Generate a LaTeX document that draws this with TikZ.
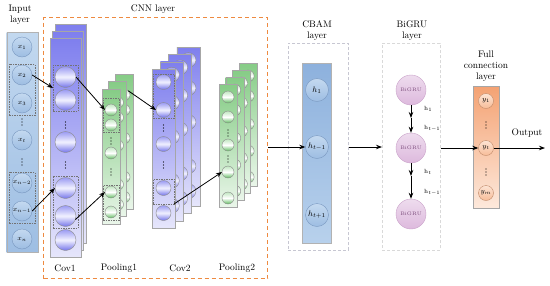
\documentclass[tikz,border=0pt]{standalone}
\usepackage{fontspec}
\usetikzlibrary{arrows.meta}
\definecolor{cova}{HTML}{7F7FEE}
\definecolor{covb}{HTML}{E6E6FB}
\definecolor{poola}{HTML}{86CC86}
\definecolor{poolb}{HTML}{EAF6EA}
\definecolor{cnnor}{HTML}{EE8A40}
\definecolor{cbt}{HTML}{9A9AF2}
\definecolor{cbm}{HTML}{F2F2FF}
\definecolor{cbb}{HTML}{7474EA}
\definecolor{pbt}{HTML}{BFE6BF}
\definecolor{pbb}{HTML}{5DBA5D}
\definecolor{inct}{HTML}{C2D8EF}
\definecolor{incb}{HTML}{9EBEE3}
\definecolor{inbt}{HTML}{C4D9F0}
\definecolor{inbb}{HTML}{9DBDE2}
\definecolor{inbd}{HTML}{7A98C0}
\definecolor{cbct}{HTML}{8DB1DD}
\definecolor{cbcb}{HTML}{B8D1EC}
\definecolor{fct}{HTML}{F4A273}
\definecolor{fcb}{HTML}{FDE9DC}
\definecolor{fbt}{HTML}{FDE4D4}
\definecolor{fbb}{HTML}{F7BC98}
\definecolor{fbd}{HTML}{C08A6A}
\definecolor{bgt}{HTML}{EEDCEE}
\definecolor{bgb}{HTML}{DDB9DD}
\definecolor{bgd}{HTML}{C9A2C9}
\definecolor{bgtx}{HTML}{7A4A7A}
\newcommand\vdts[2]{\fill (#1,#2-3) circle[radius=0.65pt] (#1,#2) circle[radius=0.65pt] (#1,#2+3) circle[radius=0.65pt];}
\tikzset{
  lbl/.style={font=\fontsize{9.5}{11}\selectfont, align=center, inner sep=0},
  sheetcov/.style={draw=black!35, top color=cova, bottom color=covb, anchor=north west, inner sep=0, outer sep=0, line width=0.4pt},
  sheetpool/.style={draw=black!35, top color=poola, bottom color=poolb, anchor=north west, inner sep=0, outer sep=0, line width=0.4pt},
  ballcov/.style={circle, draw=black!45, top color=cbt, bottom color=cbb, middle color=cbm, inner sep=0, outer sep=0, line width=0.4pt},
  ballpool/.style={circle, draw=black!45, top color=pbt, bottom color=pbb, middle color=white, inner sep=0, outer sep=0, line width=0.4pt},
  dbox/.style={draw=black!55, dash pattern=on 1.5pt off 1pt, line width=0.35pt, anchor=north west, inner sep=0, outer sep=0},
  inball/.style={circle, draw=inbd, top color=inbt, bottom color=inbb, inner sep=0, minimum size=20, font=\fontsize{7.5}{7.5}\selectfont},
  cbball/.style={circle, draw=inbd, top color=inbt, bottom color=inbb, inner sep=0, minimum size=23, font=\fontsize{8.5}{8.5}\selectfont},
  bgball/.style={circle, draw=bgd, top color=bgt, bottom color=bgb, inner sep=0, minimum size=30, font=\fontsize{5}{5}\selectfont, text=bgtx},
  fcball/.style={circle, draw=fbd, top color=fbt, bottom color=fbb, inner sep=0, minimum size=15, font=\fontsize{7}{7}\selectfont},
  arr/.style={-{Stealth[length=6pt,width=4.5pt]}, line width=0.8pt},
  hl/.style={inner sep=0, font=\fontsize{6}{6}\selectfont, anchor=west}
}
\begin{document}
\begin{tikzpicture}[x=1pt,y=-1pt]
\useasboundingbox (0,0) rectangle (550,285);
% ---------- Input layer
\node[lbl] (inlbl) at (20,15) {Input\\layer};
\node[draw=black!30, top color=inct, bottom color=incb, anchor=north west, inner sep=0, minimum width=31, minimum height=220] (incol) at (6.5,32) {};
\foreach \j/\yy/\t in {1/47/x_1,2/75/x_2,3/103/x_3,4/140/x_t,5/183/x_{n-2},6/211/x_{n-1},7/239/x_n}{
  \node[inball] (in\j) at (22,\yy) {$\t$};
}
\vdts{22}{122}
\vdts{22}{162}
\node[dbox, minimum width=26, minimum height=51] (inbA) at (9,64) {};
\node[dbox, minimum width=26, minimum height=51] (inbB) at (9,172) {};
% ---------- CNN box
\node[draw=cnnor, dash pattern=on 4pt off 3pt, line width=1.2pt, anchor=north west, inner sep=0, minimum width=224, minimum height=261] (cnn) at (43,17) {};
\node[lbl] (cnnlbl) at (153,9) {CNN layer};
% ---------- Cov1
\foreach \s/\dx/\dy in {3/5/14,2/2.5/7,1/0/0}{
  \node[sheetcov, minimum width=31, minimum height=219] (cov1s\s) at (50+\dx,38-\dy) {};
  \foreach \j/\ry in {1/39,2/62,3/104,4/150,5/178,6/202}{
    \node[ballcov, minimum size=21] (cov1s\s-\j) at (65.5+\dx,38-\dy+\ry) {};
  }
}
\vdts{65.5}{125}
\vdts{65.5}{165}
\node[dbox, minimum width=25, minimum height=46] (c1bA) at (53,65) {};
\node[dbox, minimum width=25, minimum height=52] (c1bB) at (53,176) {};
\node[lbl] (c1lbl) at (65,268) {Cov1};
% ---------- Pooling1
\foreach \s/\dx/\dy in {3/13/15,2/6.5/7.5,1/0/0}{
  \node[sheetpool, minimum width=18, minimum height=135] (p1s\s) at (102+\dx,89-\dy) {};
  \foreach \j/\ry in {1/21,2/36,3/64,4/103,5/123}{
    \node[ballpool, minimum size=12] (p1s\s-\j) at (111+\dx,89-\dy+\ry) {};
  }
}
\vdts{111}{141}
\vdts{111}{172}
\node[dbox, minimum width=16, minimum height=34] (p1bA) at (103,98) {};
\node[dbox, minimum width=16, minimum height=35] (p1bB) at (103,185) {};
\node[lbl] (p1lbl) at (119,268) {Pooling1};
% ---------- Cov2
\foreach \s/\dx/\dy in {4/24.9/21.9,3/16.6/14.6,2/8.3/7.3,1/0/0}{
  \node[sheetcov, minimum width=23, minimum height=159] (c2s\s) at (152+\dx,69-\dy) {};
  \foreach \j/\ry in {1/13,2/41,3/75,4/119,5/144}{
    \node[ballcov, minimum size=15] (c2s\s-\j) at (163.5+\dx,69-\dy+\ry) {};
  }
}
\vdts{163.5}{128}
\vdts{163.5}{165}
\node[dbox, minimum width=21, minimum height=44] (c2bA) at (153,74) {};
\node[dbox, minimum width=21, minimum height=25] (c2bB) at (153,179) {};
\node[lbl] (c2lbl) at (180,268) {Cov2};
% ---------- Pooling2
\foreach \s/\dx/\dy in {4/20.1/21,3/13.4/14,2/6.7/7,1/0/0}{
  \node[sheetpool, minimum width=18, minimum height=123] (p2s\s) at (219+\dx,84-\dy) {};
  \foreach \j/\ry in {1/13,2/33,3/61,4/88,5/114}{
    \node[ballpool, minimum size=12] (p2s\s-\j) at (228+\dx,84-\dy+\ry) {};
  }
}
\vdts{228}{133}
\vdts{228}{159}
\node[lbl] (p2lbl) at (237,268) {Pooling2};
% ---------- CNN arrows
\draw[arr] (in2.east) -- (c1bA.west);
\draw[arr] (in6.east) -- (cov1s1-4.west);
\draw[arr] (cov1s1-1.east) -- (p1s1-1.west);
\draw[arr] (cov1s1-5.-20) -- (p1s1-4.west);
\draw[arr] (p1s3-1.45) -- (c2s1-2.west);
\draw[arr] (c2bB.south east) -- (p2s1-4.west);
% ---------- CBAM
\node[lbl] (cblbl) at (317,31) {CBAM\\layer};
\node[draw=blue!20!black!22, dash pattern=on 3pt off 2pt, line width=0.6pt, anchor=north west, inner sep=0, minimum width=60, minimum height=207] (cbbox) at (288,43) {};
\node[draw=black!30, top color=cbct, bottom color=cbcb, anchor=north west, inner sep=0, minimum width=29, minimum height=180] (cbcol) at (302,63) {};
\node[cbball] (cb1) at (317,90) {$h_1$};
\node[cbball] (cb2) at (317,147) {$h_{t-1}$};
\node[cbball] (cb3) at (317,215) {$h_{t+1}$};
\draw[arr] (cnn.east |- cb2) -- (cb2.west);
% ---------- BiGRU
\node[lbl] (bglbl) at (412,31) {BiGRU\\layer};
\node[draw=black!15, dash pattern=on 3pt off 2pt, line width=0.6pt, anchor=north west, inner sep=0, minimum width=58, minimum height=207] (bgbox) at (382,43) {};
\node[bgball] (bg1) at (411,90) {BiGRU};
\node[bgball] (bg2) at (411,148) {BiGRU};
\node[bgball] (bg3) at (411,214) {BiGRU};
\coordinate (bm1) at (411,118);
\coordinate (bm2) at (411,176);
\draw[arr] (bg1.south) -- (bm1);
\draw[arr] (bm1) -- (bg2.north);
\draw[arr] (bg2.south) -- (bm2);
\draw[arr] (bm2) -- (bg3.north);
\node[hl] (hA) at (424,109) {h$_1$};
\node[hl] (hB) at (424,128) {h$_{t-1}$};
\node[hl] (hC) at (424,172) {h$_t$};
\node[hl] (hD) at (424,192) {h$_{t-1}$};
\draw[arr] (cbbox.east |- cb2) -- (bgbox.west |- cb2);
% ---------- Full connection
\node[lbl] (fclbl) at (486,66) {Full\\connection\\layer};
\node[draw=black!35, top color=fct, bottom color=fcb, anchor=north west, inner sep=0, minimum width=26, minimum height=122] (fccol) at (473,86) {};
\node[fcball] (fc1) at (486,101) {$y_1$};
\node[fcball] (fc2) at (486,148) {$y_t$};
\node[fcball] (fc3) at (486,193) {$y_m$};
\vdts{486}{125}
\vdts{486}{172}
\draw[arr] (bgbox.east |- fc2) -- (fc2.west);
\coordinate (outend) at (545,148);
\draw[arr] (fc2.east) -- (outend);
\node[lbl] (outlbl) at (527,133) {Output};
\end{tikzpicture}
\end{document}
